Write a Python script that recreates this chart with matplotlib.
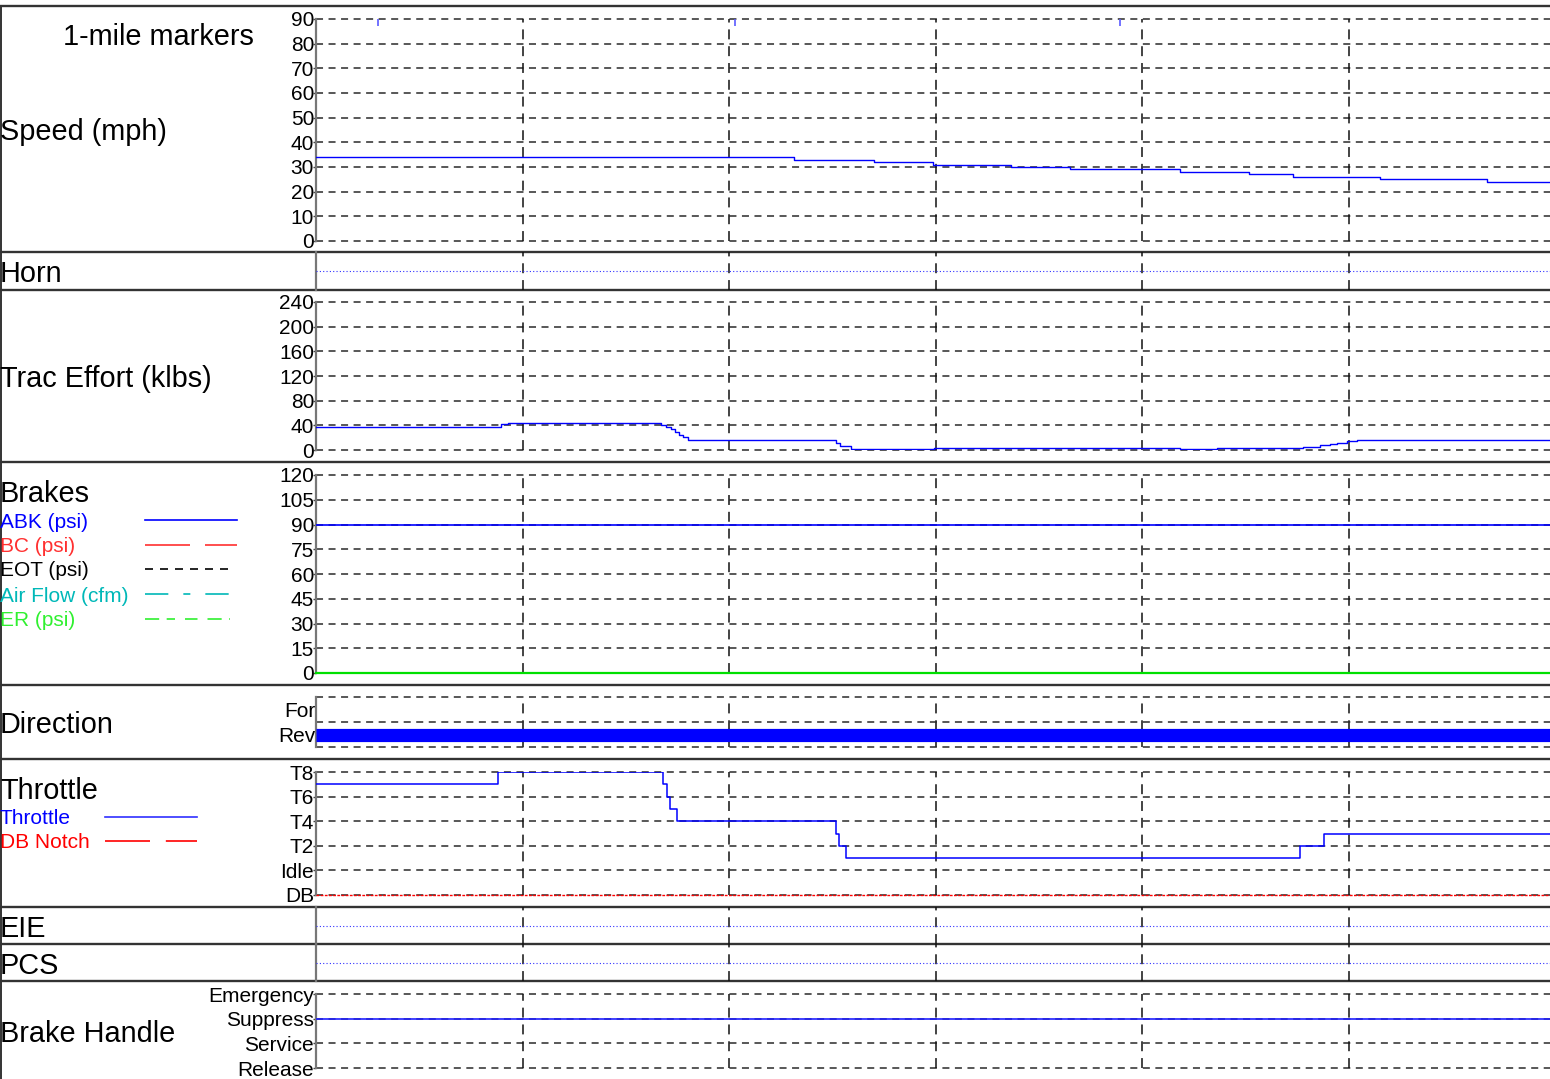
import matplotlib
matplotlib.use('Agg')
import matplotlib.pyplot as plt

plt.rcParams['font.family'] = ['Liberation Sans', 'DejaVu Sans']

W, H = 1550, 1079
T_END = 6.0

# ---------------- data ----------------
speed_t = [0, 2.315, 2.702, 2.988, 3.366, 3.651, 4.184, 4.518, 4.731, 5.153, 5.671, T_END]
speed_v = [34, 33, 32, 31, 30, 29, 28, 27, 26, 25, 24, 24]
mile_markers_t = [0.300, 2.029, 3.893]

trac_t = [0, 0.029, 0.126, 0.465, 0.518, 0.896, 0.928, 1.669, 1.695, 1.717, 1.738, 1.756,
          1.777, 1.801, 2.517, 2.538, 2.591, 2.993, 4.184, 4.363, 4.780, 4.862, 4.910,
          4.944, 4.993, 5.041, 5.651, T_END]
trac_v = [38, 37, 38, 37, 38, 42, 44, 41, 37, 34, 29, 25,
          21, 17, 12, 7, 2, 3, 2, 3, 5, 8, 10,
          12, 14, 16, 17, 17]

brake_t = [0, T_END]
abk_v = [90, 90]
bc_v = [0, 0]
airflow_v = [0, 0]
er_v = [0, 0]

direction_t = [0, T_END]
direction_v = [0.5, 0.5]          # Rev

throttle_t = [0, 0.881, 1.680, 1.700, 1.714, 1.748, 2.518, 2.533, 2.567, 4.765, 4.881, T_END]
throttle_v = [7, 8, 7, 6, 5, 4, 3, 2, 1, 2, 3, 3]
db_notch_t = [0, T_END]
db_notch_v = [-2, -2]

horn_t = [0, T_END]; horn_v = [0, 0]
eie_t = [0, T_END]; eie_v = [0, 0]
pcs_t = [0, T_END]; pcs_v = [0, 0]

brake_handle_t = [0, T_END]
brake_handle_v = [2, 2]            # Suppress

speed_ticks = list(range(0, 91, 10))
trac_ticks = list(range(0, 241, 40))
brake_ticks = list(range(0, 121, 15))
throttle_ticks = [-2, 0, 2, 4, 6, 8]
throttle_labels = ['DB', 'Idle', 'T2', 'T4', 'T6', 'T8']
direction_ticks = [0.5, 1.5]
direction_labels = ['Rev', 'For']
handle_ticks = [0, 1, 2, 3]
handle_labels = ['Release', 'Service', 'Suppress', 'Emergency']
vgrid_t = [1, 2, 3, 4, 5]

# ---------------- figure ----------------
fig = plt.figure(figsize=(W / 100, H / 100), dpi=100)
fig.patch.set_facecolor('white')

bg = fig.add_axes([0, 0, 1, 1], zorder=-5)
bg.set_xlim(0, W)
bg.set_ylim(H, 0)
bg.axis('off')

BORDER = '#333333'
for yb in [6, 252, 290, 462, 685, 759, 907, 944, 981]:
    bg.plot([0, W], [yb, yb], color=BORDER, lw=1.7, solid_capstyle='butt')
bg.plot([1, 1], [6, H], color=BORDER, lw=1.4)

TITLE = 20.8
TICK = 15
HGRID = dict(color='#2a2a2a', lw=1.1, ls=(0, (4.6, 3.6)))
VGRID = dict(color='#111111', lw=1.1, ls=(0, (6.5, 4.5)))
X0 = 316
PX_PER_T = 206.5


def make_ax(top, bottom, ylim, ticks=None, labels=None, tickmarks=True, hgrid=True):
    ax = fig.add_axes([X0 / W, 1 - bottom / H, PX_PER_T * T_END / W, (bottom - top) / H])
    ax.set_xlim(0, T_END)
    ax.set_ylim(*ylim)
    for s in ['top', 'right', 'bottom']:
        ax.spines[s].set_visible(False)
    ax.spines['left'].set_color('#777777')
    ax.spines['left'].set_linewidth(1.6)
    ax.set_xticks([])
    ax.patch.set_alpha(0)
    if ticks is not None:
        ax.set_yticks(ticks)
        ax.set_yticklabels(labels if labels is not None else [str(t) for t in ticks])
        ax.tick_params(axis='y', direction='out', length=2.2 if tickmarks else 0,
                       width=1, color='#444444', labelsize=TICK,
                       pad=-0.8 if tickmarks else 0.6)
        if hgrid:
            for t in ticks:
                ax.axhline(t, clip_on=False, zorder=1, **HGRID)
    else:
        ax.set_yticks([])
    for xv in vgrid_t:
        ax.axvline(xv, zorder=1, **VGRID)
    return ax


def title(y, s):
    bg.text(0, y + 3, s, fontsize=TITLE, ha='left', va='center')


# Speed
ax = make_ax(19, 241, (0, 90), speed_ticks)
ax.step(speed_t, speed_v, where='post', color='#0000ff', lw=1.0, zorder=3)
ax.vlines(mile_markers_t, 87.2, 90, color='#5a5aff', lw=1.2, zorder=3)
bg.text(158, 37, '1-mile markers', fontsize=TITLE, ha='center', va='center')
title(129, 'Speed (mph)')

# Horn
ax = make_ax(252, 290, (-1, 1))
ax.step(horn_t, horn_v, where='post', color='#3030ff', lw=0.8, ls=(0, (1, 2)), zorder=3)
title(271, 'Horn')

# Trac effort
ax = make_ax(302, 450, (0, 240), trac_ticks)
ax.step(trac_t, trac_v, where='post', color='#0000ff', lw=1.0, zorder=3)
title(376, 'Trac Effort (klbs)')

# Brakes
ax = make_ax(475, 673, (0, 120), brake_ticks)
ax.step(brake_t, abk_v, where='post', color='#0000ff', lw=1.2, zorder=3)
ax.step(brake_t, bc_v, where='post', color='#ff0000', lw=1.2, zorder=3, clip_on=False)
ax.step(brake_t, airflow_v, where='post', color='#00c0c0', lw=1.2, zorder=3, clip_on=False)
ax.step(brake_t, er_v, where='post', color='#00e000', lw=1.6, zorder=4, clip_on=False)
title(491, 'Brakes')
legend_rows = [
    ('ABK (psi)', '#0000ff', '-', 520, 237),
    ('BC (psi)', '#ff3030', (0, (27, 9)), 545, 237),
    ('EOT (psi)', '#000000', (0, (4.8, 4.2)), 569, 230),
    ('Air Flow (cfm)', '#00b8b8', (0, (14, 9, 4.2, 9)), 594, 230),
    ('ER (psi)', '#30f030', (0, (8.5, 4.5, 5, 6, 7.5, 6)), 619, 230),
]
for name, col, ls, yy, xe in legend_rows:
    bg.text(0, yy + 2, name, fontsize=TICK, color=col, ha='left', va='center')
    bg.plot([145, xe], [yy, yy], color=col, lw=1.2, ls=ls)

# Direction
ax = make_ax(697, 747, (0, 2), direction_ticks, direction_labels, tickmarks=False, hgrid=False)
for t in [0, 1, 2]:
    ax.axhline(t, clip_on=False, zorder=1, **HGRID)
ax.plot(direction_t, direction_v, color='#0000ff', lw=9.5, solid_capstyle='butt', zorder=3)
title(722, 'Direction')

# Throttle
ax = make_ax(772, 895, (-2, 8), throttle_ticks, throttle_labels)
ax.step(throttle_t, throttle_v, where='post', color='#0000ff', lw=1.1, zorder=3)
ax.step(db_notch_t, db_notch_v, where='post', color='#ff0000', lw=1.0,
        ls=(0, (2, 1)), zorder=4, clip_on=False)
title(788, 'Throttle')
bg.text(0, 819, 'Throttle', fontsize=TICK, color='#0000ff', ha='left', va='center')
bg.plot([105, 197], [817, 817], color='#3030ff', lw=1.2)
bg.text(0, 843, 'DB Notch', fontsize=TICK, color='#ff0000', ha='left', va='center')
bg.plot([105, 197], [841, 841], color='#ff0000', lw=1.2, ls=(0, (27, 9.5)))

# EIE
ax = make_ax(907, 944, (-1, 1))
ax.step(eie_t, eie_v, where='post', color='#3030ff', lw=0.8, ls=(0, (1, 2)), zorder=3)
title(926, 'EIE')

# PCS
ax = make_ax(944, 981, (-1, 1))
ax.step(pcs_t, pcs_v, where='post', color='#3030ff', lw=0.8, ls=(0, (1, 2)), zorder=3)
title(963, 'PCS')

# Brake handle
ax = make_ax(994, 1068, (0, 3), handle_ticks, handle_labels)
ax.step(brake_handle_t, brake_handle_v, where='post', color='#2020ff', lw=1.2, zorder=3)
title(1031, 'Brake Handle')

fig.savefig('out.png', dpi=100, facecolor='white')
